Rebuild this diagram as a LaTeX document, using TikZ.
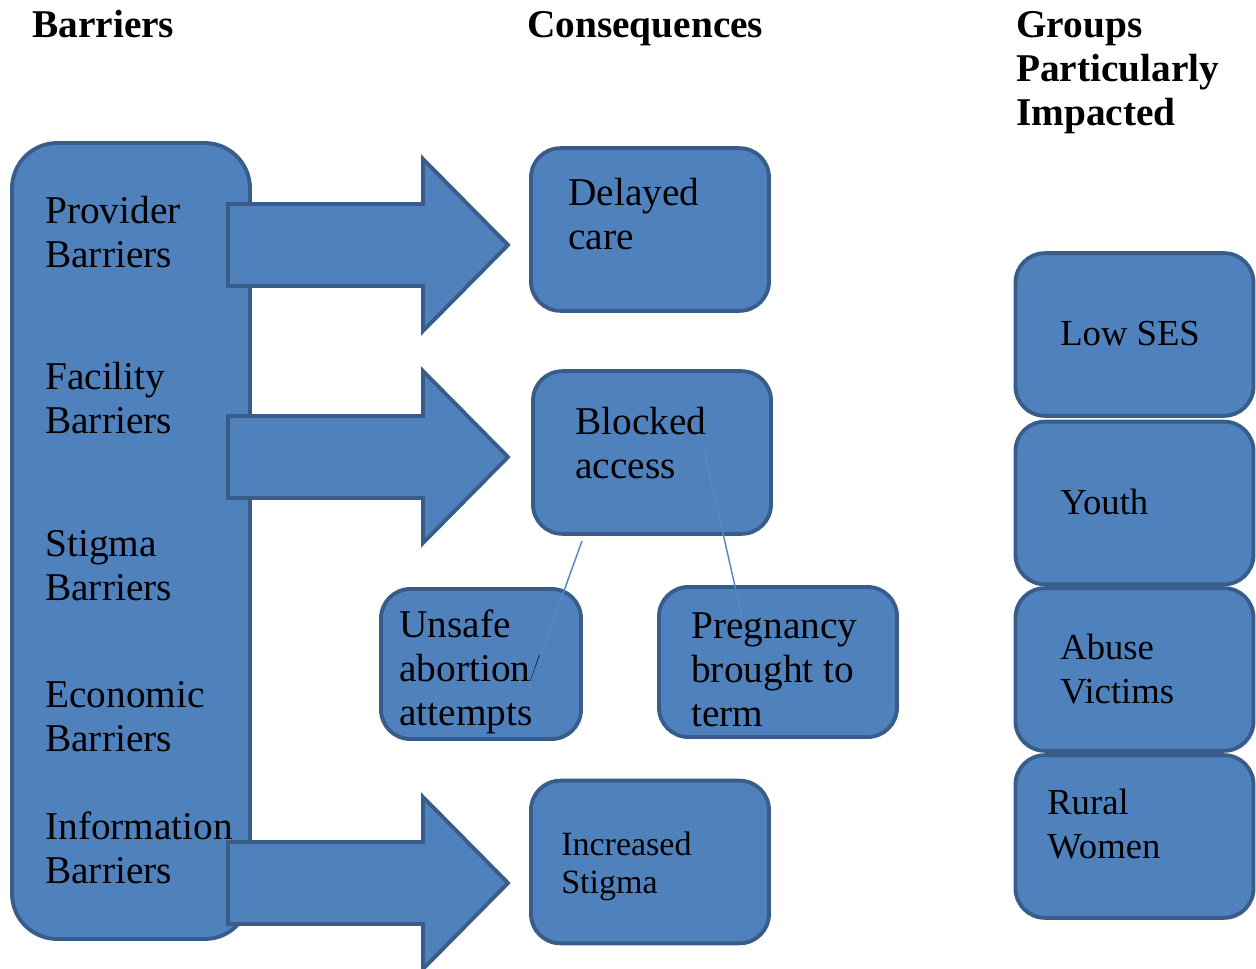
\documentclass[tikz,border=0pt]{standalone}
\usepackage{fontspec}
\setmainfont{Liberation Serif}
\usepackage{tikz}
\usetikzlibrary{positioning,calc}
\definecolor{boxfill}{RGB}{79,129,189}
\definecolor{boxline}{RGB}{56,93,138}
\definecolor{thinline}{RGB}{86,136,198}

\begin{document}
\begin{tikzpicture}[x=0.75pt,y=-0.75pt,line join=miter,
    box/.style={draw=boxline,fill=boxfill,line width=2.9pt,rounded corners=22pt,
      minimum width=178.5pt,minimum height=122pt,inner sep=0pt},
    blockarrow/.style={draw=boxline,fill=boxfill,line width=2.9pt},
    lbl/.style={anchor=base west,inner sep=0pt,align=left,
      font=\fontsize{29.5}{33}\selectfont},
    grp/.style={lbl,font=\fontsize{27.5}{33}\selectfont},
    head/.style={anchor=base west,inner sep=0pt,align=left,
      font=\fontsize{29.5}{33}\selectfont\bfseries}]
  \useasboundingbox (0,0) rectangle (1256,969);
  % headers (base = last line)
  \node[head] (hbar) at (32,38) {Barriers};
  \node[head] (hcons) at (527,38) {Consequences};
  \node[head] (hgrp) at (1016,126) {Groups\\Particularly\\Impacted};
  % barriers column
  \node[box,rounded corners=34pt,minimum width=178.5pt,minimum height=597pt]
    (barriers) at (131,541) {};
  \foreach \y in {245,457,883}
    \draw[blockarrow] (228,\y-41) -- (423,\y-41) -- (423,\y-86) -- (508,\y)
      -- (423,\y+86) -- (423,\y+41) -- (228,\y+41) -- cycle;
  \node[lbl] (prov) at (45,268) {Provider\\Barriers};
  \node[lbl] (fac) at (45,434) {Facility\\Barriers};
  \node[lbl] (stig) at (45,600) {Stigma\\Barriers};
  \node[lbl] (econ) at (45,751) {Economic\\Barriers};
  \node[lbl] (info) at (45,883) {Information\\Barriers};
  % consequences
  \node[box] (delayed) at (650,229.5) {};
  \node[box] (blocked) at (652,452.5) {};
  \node[box,minimum width=150pt,minimum height=112.5pt] (unsafe) at (481,664) {};
  \node[box,minimum height=112.5pt] (pregnancy) at (778,662) {};
  \node[box] (incstigma) at (650,862) {};
  \node[lbl] at (568,250) {Delayed\\care};
  \node[lbl] at (575,479) {Blocked\\access};
  \node[lbl] at (399,725) {Unsafe\\abortion/\\attempts};
  \node[lbl] at (691,726) {Pregnancy\\brought to\\term};
  \node[lbl,font=\fontsize{25.5}{28}\selectfont] at (561,893) {Increased\\Stigma};
  % groups
  \node[box] (lowses) at (1134.5,334.5) {};
  \node[box] (youth) at (1134.5,503) {};
  \node[box] (abuse) at (1134.5,669.5) {};
  \node[box] (rural) at (1134.5,836.5) {};
  \node[grp] at (1060,346) {Low SES};
  \node[grp] at (1060,514) {Youth};
  \node[grp] at (1060,703) {Abuse\\Victims};
  \node[grp] at (1047,858) {Rural\\Women};
  % links from blocked access
  \coordinate (bl1) at (582,541);
  \coordinate (un1) at (527,693);
  \coordinate (bl2) at (704,450);
  \coordinate (pr1) at (742,617);
  \draw[thinline,line width=1.1pt] (bl1) -- (un1);
  \draw[thinline,line width=1.1pt] (bl2) -- (pr1);
\end{tikzpicture}
\end{document}
